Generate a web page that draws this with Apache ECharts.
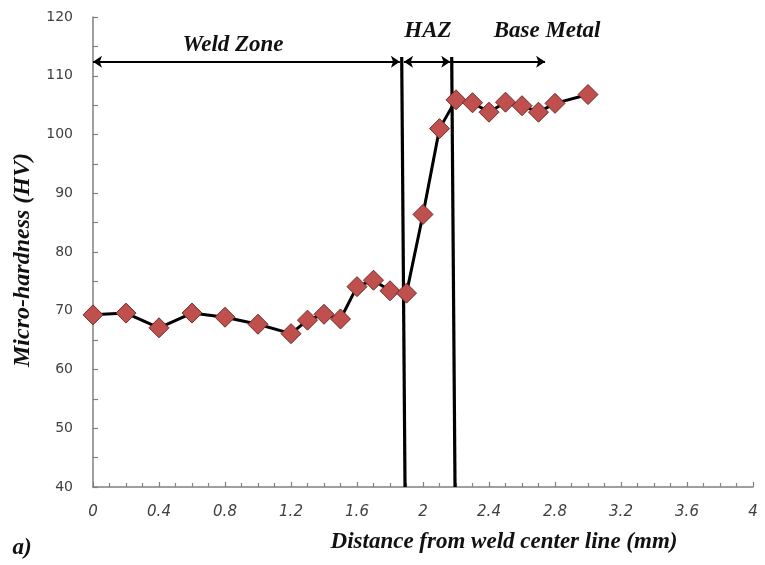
<!DOCTYPE html>
<html><head><meta charset="utf-8">
<script src="https://cdn.jsdelivr.net/npm/echarts@6/dist/echarts.min.js"></script>
<style>html,body{margin:0;padding:0;background:#fff}#c{width:765px;height:565px}</style>
</head><body><div id="c"></div>
<script>
// Data
const distance = [0, 0.2, 0.4, 0.6, 0.8, 1.0, 1.2, 1.3, 1.4, 1.5, 1.6, 1.7, 1.8, 1.9, 2.0, 2.1, 2.2, 2.3, 2.4, 2.5, 2.6, 2.7, 2.8, 3.0];
const hardness = [69.3, 69.6, 67.1, 69.6, 68.9, 67.7, 66.1, 68.4, 69.4, 68.6, 74.1, 75.2, 73.4, 73.0, 86.4, 101.0, 105.9, 105.4, 103.8, 105.5, 104.9, 103.8, 105.3, 106.8];
// zone boundaries (top x, bottom x) and annotation arrows
const boundaryLines = [[1.871, 1.891], [2.174, 2.194]];
const boundaryTop = 113.2;
const arrowY = 112.4;
const zoneArrows = [
  {name: 'Weld Zone', from: 0, to: 1.86, both: true},
  {name: 'HAZ', from: 1.885, to: 2.165, both: true},
  {name: 'Base Metal', from: 2.18, to: 2.74, both: false}
];
const xTicks = {min: 0, max: 4, interval: 0.4};
const yTicks = {min: 40, max: 120, interval: 10};

const points = distance.map((d, i) => [d, hardness[i]]);
const serif = '"Liberation Serif", "DejaVu Serif", serif';

const markLines = [];
boundaryLines.forEach(b => {
  markLines.push([{coord: [b[0], boundaryTop], symbol: 'none', lineStyle: {width: 3.2}},
                  {coord: [b[1], 40], symbol: 'none'}]);
});
zoneArrows.forEach(a => {
  markLines.push([{coord: [a.from, arrowY], symbol: a.both ? 'arrow' : 'none', lineStyle: {width: 1.8}},
                  {coord: [a.to, arrowY], symbol: 'arrow'}]);
});

const chart = echarts.init(document.getElementById('c'), null, {renderer: 'canvas'});
chart.setOption({
  animation: false,
  backgroundColor: '#ffffff',
  grid: {left: 93, right: 12, top: 17, bottom: 78, containLabel: false},
  xAxis: {
    type: 'value', min: xTicks.min, max: xTicks.max, interval: xTicks.interval,
    axisLine: {show: true, onZero: false, lineStyle: {color: '#808080', width: 1.5}},
    axisTick: {show: true, inside: true, length: 5, lineStyle: {color: '#808080', width: 1.2}},
    minorTick: {show: true, splitNumber: 4, length: 4, lineStyle: {color: '#808080', width: 1.2}},
    splitLine: {show: false},
    axisLabel: {color: '#404040', fontFamily: '"DejaVu Sans", Verdana, sans-serif', fontStyle: 'italic', fontSize: 15, margin: 18}
  },
  yAxis: {
    type: 'value', min: yTicks.min, max: yTicks.max, interval: yTicks.interval,
    axisLine: {show: true, lineStyle: {color: '#808080', width: 1.5}},
    axisTick: {show: true, inside: true, length: 5, lineStyle: {color: '#808080', width: 1.2}},
    minorTick: {show: true, splitNumber: 2, length: 5, lineStyle: {color: '#808080', width: 1.2}},
    splitLine: {show: false},
    axisLabel: {color: '#404040', fontFamily: '"DejaVu Sans", Verdana, sans-serif', fontSize: 14, margin: 20}
  },
  series: [{
    type: 'line',
    data: points,
    symbol: 'diamond',
    symbolSize: 20,
    lineStyle: {color: '#000000', width: 3},
    itemStyle: {color: '#C0504D', borderColor: '#6e2a28', borderWidth: 1},
    z: 3,
    markLine: {
      silent: true,
      symbolSize: [9, 9],
      label: {show: false},
      lineStyle: {color: '#000000', type: 'solid', width: 2},
      emphasis: {disabled: true},
      data: markLines,
      z: 2
    }
  }],
  graphic: [
    {type: 'text', x: 233, y: 45, style: {text: 'Weld Zone', font: 'italic bold 23px ' + serif, fill: '#111', align: 'center', verticalAlign: 'middle'}},
    {type: 'text', x: 428, y: 31, style: {text: 'HAZ', font: 'italic bold 23px ' + serif, fill: '#111', align: 'center', verticalAlign: 'middle'}},
    {type: 'text', x: 547, y: 31, style: {text: 'Base Metal', font: 'italic bold 23px ' + serif, fill: '#111', align: 'center', verticalAlign: 'middle'}},
    {type: 'text', x: 504, y: 542, style: {text: 'Distance from weld center line (mm)', font: 'italic bold 23px ' + serif, fill: '#111', align: 'center', verticalAlign: 'middle'}},
    {type: 'text', x: 23, y: 260, rotation: Math.PI / 2, style: {text: 'Micro-hardness (HV)', font: 'italic bold 24px ' + serif, fill: '#111', align: 'center', verticalAlign: 'middle'}},
    {type: 'text', x: 22, y: 548, style: {text: 'a)', font: 'italic bold 23px ' + serif, fill: '#111', align: 'center', verticalAlign: 'middle'}}
  ]
});
</script>
</body></html>
